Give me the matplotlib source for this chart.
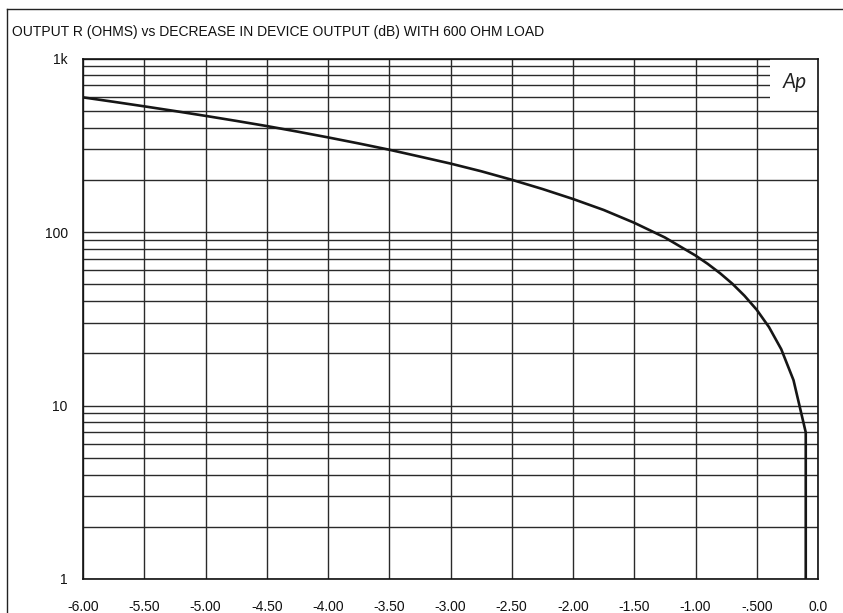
import matplotlib
matplotlib.use("Agg")
import matplotlib.pyplot as plt
from matplotlib.lines import Line2D
from matplotlib.patches import Rectangle
from matplotlib.ticker import FixedLocator, NullFormatter

plt.rcParams['font.family'] = ['Liberation Sans', 'DejaVu Sans']

# Level drop (dB) versus source output resistance (ohms) into a 600 ohm load
level_db = [-6.00, -5.75, -5.50, -5.25, -5.00, -4.75, -4.50, -4.25, -4.00,
            -3.75, -3.50, -3.25, -3.00, -2.75, -2.50, -2.25, -2.00, -1.75,
            -1.50, -1.25, -1.00, -0.90, -0.80, -0.70, -0.60, -0.50, -0.40,
            -0.30, -0.20, -0.10, -0.10]
output_r = [597, 563, 530, 498, 467, 437, 408, 379, 351,
            324, 298, 272, 248, 224, 200, 177, 155, 134,
            113, 93, 73.2, 65.5, 57.9, 50.4, 42.9, 35.6, 28.3,
            21.1, 14.0, 7.0, 1.0]

x_ticks = [-6.0, -5.5, -5.0, -4.5, -4.0, -3.5, -3.0, -2.5, -2.0, -1.5, -1.0, -0.5, 0.0]
x_labels = ["-6.00", "-5.50", "-5.00", "-4.50", "-4.00", "-3.50", "-3.00",
            "-2.50", "-2.00", "-1.50", "-1.00", "-.500", "0.0"]
y_ticks = [1, 10, 100, 1000]
y_labels = ["1", "10", "100", "1k"]

title = "OUTPUT R (OHMS) vs DECREASE IN DEVICE OUTPUT (dB) WITH 600 OHM LOAD"

W, H = 843, 613
fig = plt.figure(figsize=(W / 100, H / 100), dpi=100)
ax = fig.add_axes([83 / W, 1 - 579 / H, (818 - 83) / W, (579 - 58.5) / H])

ax.set_yscale('log')
ax.set_xlim(-6.0, 0.0)
ax.set_ylim(1, 1000)

grid_kw = dict(color='#2a2a2a', linewidth=1.0)
ax.set_xticks(x_ticks)
ax.set_xticklabels(x_labels)
ax.yaxis.set_major_locator(FixedLocator(y_ticks))
ax.set_yticklabels(y_labels)
minor = [m * 10 ** d for d in range(0, 3) for m in range(2, 10)]
ax.yaxis.set_minor_locator(FixedLocator(minor))
ax.yaxis.set_minor_formatter(NullFormatter())
ax.grid(True, which='major', axis='both', **grid_kw)
ax.grid(True, which='minor', axis='y', **grid_kw)
ax.set_axisbelow(True)

ax.tick_params(axis='both', which='both', length=0, labelsize=10, colors='#111111')
ax.tick_params(axis='y', pad=11)
ax.tick_params(axis='x', pad=15)

for s in ax.spines.values():
    s.set_color('#111111')
    s.set_linewidth(1.2)

ax.plot(level_db, output_r, color='#161616', linewidth=1.9, solid_joinstyle='miter',
        clip_on=True, zorder=3)

# Logo box in the upper right corner of the plot
ax.add_patch(Rectangle((0.9345, 0.9095), 0.0655, 0.0905, transform=ax.transAxes,
                       facecolor='white', edgecolor='none', zorder=2.5))
ax.text(0.9685, 0.954, "Ap", transform=ax.transAxes, ha='center', va='center',
        fontsize=15, style='italic', fontweight='normal', color='#222222', zorder=4,
        family=['Lato', 'DejaVu Sans'])

fig.text(12 / W, 1 - 32 / H, title, ha='left', va='center', fontsize=10, color='#111111')

# Page frame
fig.add_artist(Line2D([6.7 / W, 6.7 / W], [0, 1 - 9.3 / H], transform=fig.transFigure,
                      color='#222222', linewidth=1.0))
fig.add_artist(Line2D([6.7 / W, 1], [1 - 9.3 / H, 1 - 9.3 / H], transform=fig.transFigure,
                      color='#222222', linewidth=1.0))

fig.savefig("out.png", dpi=100, facecolor='white')
